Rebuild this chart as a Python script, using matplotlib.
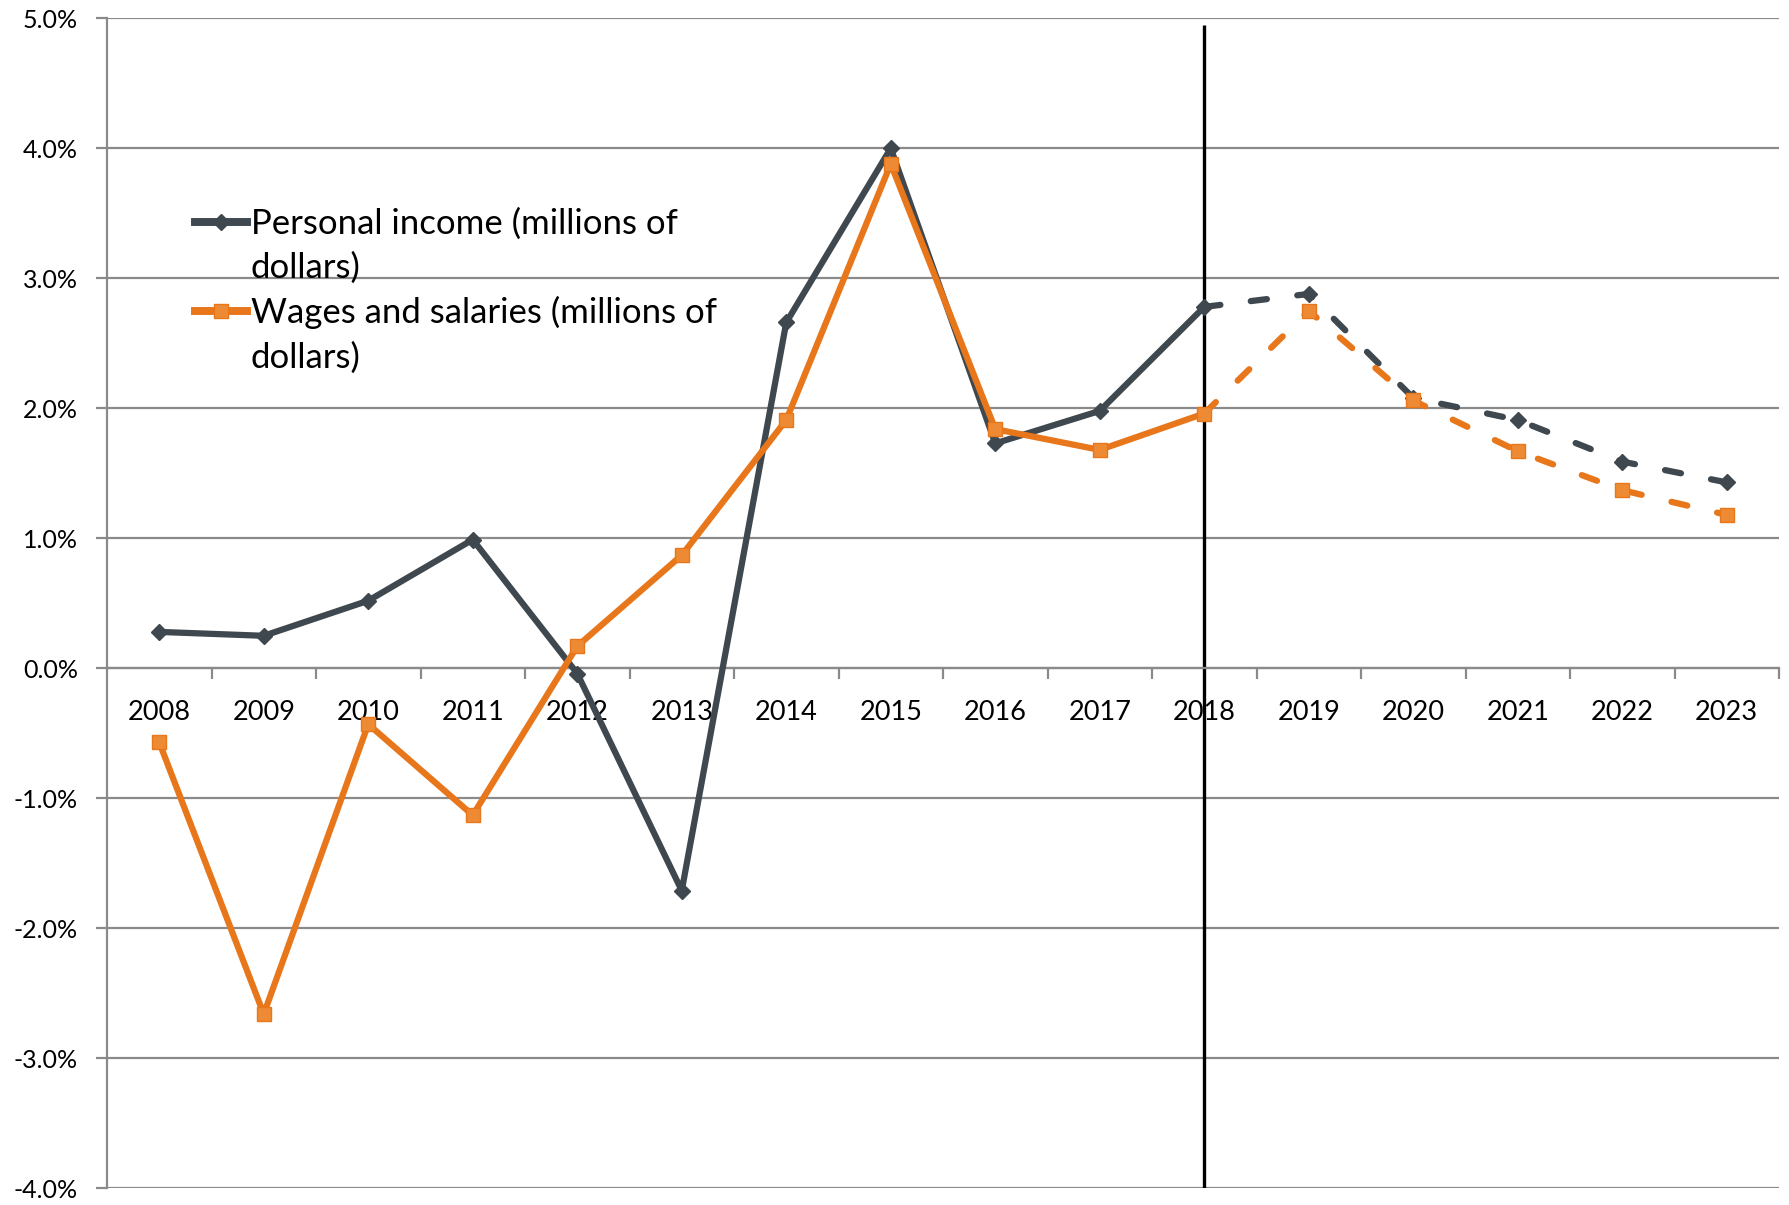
import matplotlib
matplotlib.use("Agg")
import matplotlib.pyplot as plt
from matplotlib.lines import Line2D
from matplotlib.ticker import FixedLocator, FuncFormatter

years = ["2008", "2009", "2010", "2011", "2012", "2013", "2014", "2015",
         "2016", "2017", "2018", "2019", "2020", "2021", "2022", "2023"]
personal_income = [0.28, 0.25, 0.52, 0.99, -0.04, -1.71, 2.66, 4.00,
                   1.73, 1.98, 2.78, 2.88, 2.08, 1.91, 1.59, 1.43]
wages_salaries = [-0.57, -2.66, -0.43, -1.13, 0.17, 0.87, 1.91, 3.88,
                  1.84, 1.68, 1.96, 2.75, 2.06, 1.67, 1.37, 1.18]
forecast_start = "2018"
y_ticks = [-4, -3, -2, -1, 0, 1, 2, 3, 4, 5]
label_pi = ["Personal income (millions of", "dollars)"]
label_w = ["Wages and salaries (millions of", "dollars)"]

plt.rcParams['font.family'] = ['Lato', 'DejaVu Sans']

W, H = 1789, 1205
fig = plt.figure(figsize=(W / 100, H / 100), dpi=100)
ax = fig.add_axes([107 / W, 1 - 1188.3 / H, (1779 - 107) / W, (1188.3 - 18.3) / H])

PI_C = "#3e484e"
W_C = "#e8761b"
W_FILL = "#ee8a34"
GRID_C = "#8a8a8a"

x = list(range(len(years)))
k = years.index(forecast_start)
lw = 4.5
dash = (2.6, 4.9)

ax.set_xlim(-0.5, len(years) - 0.5)
ax.set_ylim(-4, 5)

for v in y_ticks:
    ax.axhline(v, color=GRID_C, lw=1.6, zorder=1)

ax.plot([k, k], [-4, 4.95], color="black", lw=2.4, zorder=2, solid_capstyle="butt")

def draw(vals, color, marker, ms, mfc, mec):
    ax.plot(x[:k + 1], vals[:k + 1], color=color, lw=lw, zorder=3,
            solid_capstyle="round", solid_joinstyle="round")
    ax.plot(x[k:], vals[k:], color=color, lw=lw, zorder=3,
            linestyle=(0, dash), dash_capstyle="round")
    ax.plot(x, vals, linestyle="none", marker=marker, ms=ms, mfc=mfc, mec=mec,
            mew=1.0, zorder=4)

draw(personal_income, PI_C, "D", 8.0, PI_C, PI_C)
draw(wages_salaries, W_C, "s", 10.5, W_FILL, W_C)

# spines
for s in ["top", "right"]:
    ax.spines[s].set_visible(False)
ax.spines["left"].set_color(GRID_C)
ax.spines["left"].set_linewidth(1.6)
ax.spines["bottom"].set_position(("data", 0))
ax.spines["bottom"].set_color(GRID_C)
ax.spines["bottom"].set_linewidth(1.6)

ax.yaxis.set_major_locator(FixedLocator(y_ticks))
ax.yaxis.set_major_formatter(FuncFormatter(lambda v, p: f"{v:.1f}%"))
ax.tick_params(axis="y", direction="out", length=8, width=1.6, color=GRID_C,
               labelsize=18, pad=13, labelcolor="black")

ax.set_xticks(x)
ax.set_xticklabels(years)
ax.set_xticks([i + 0.5 for i in range(len(years))], minor=True)
ax.tick_params(axis="x", which="major", length=0, labelsize=19.5, pad=23,
               labelcolor="black")
ax.tick_params(axis="x", which="minor", direction="out", length=8, width=1.6,
               color=GRID_C)

handles = [
    Line2D([], [], color=PI_C, lw=lw + 1.2, marker="D", ms=8.0, mfc=PI_C, mec=PI_C),
    Line2D([], [], color="none"),
    Line2D([], [], color=W_C, lw=lw + 1.2, marker="s", ms=10.5, mfc=W_FILL, mec=W_C),
    Line2D([], [], color="none"),
]
labels = label_pi + label_w
fig.legend(handles, labels, loc="upper left", bbox_to_anchor=(195 / W, 1 - 207.5 / H),
           frameon=False, fontsize=25, handlelength=1.5, handletextpad=0.1,
           labelspacing=0.35, borderpad=0, borderaxespad=0, numpoints=1)

fig.savefig("out.png", dpi=100)
